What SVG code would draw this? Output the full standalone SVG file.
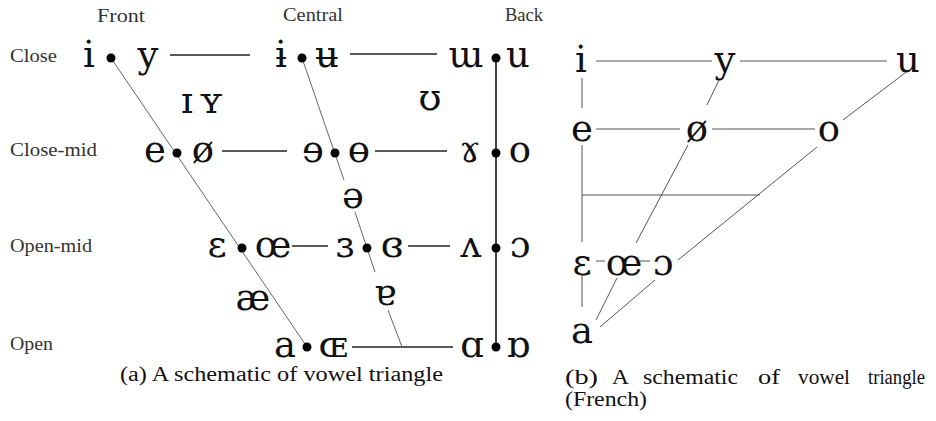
<svg xmlns="http://www.w3.org/2000/svg" width="936" height="421" viewBox="0 0 936 421">
<style>
.lab{font-family:"Liberation Serif",serif;font-size:19px;fill:#333}
.ipa{font-family:"DejaVu Serif","Liberation Serif",serif;font-size:37px;fill:#111;text-anchor:middle}
.cap{font-family:"Liberation Serif",serif;font-size:20px;fill:#111}
.h{stroke:#222;stroke-width:1.3;fill:none}
.d{stroke:#666;stroke-width:1;fill:none}
.r{stroke:#555;stroke-width:1;fill:none}
.dot{fill:#000}
</style>
<rect width="936" height="421" fill="#fff"/>
<g id="labels">
<text class="lab" x="97" y="22" textLength="48" lengthAdjust="spacingAndGlyphs">Front</text>
<text class="lab" x="283" y="21" textLength="60" lengthAdjust="spacingAndGlyphs">Central</text>
<text class="lab" x="505" y="21" textLength="38" lengthAdjust="spacingAndGlyphs">Back</text>
<text class="lab" x="10" y="62" textLength="47" lengthAdjust="spacingAndGlyphs">Close</text>
<text class="lab" x="10" y="156" textLength="87" lengthAdjust="spacingAndGlyphs">Close-mid</text>
<text class="lab" x="10" y="252" textLength="82" lengthAdjust="spacingAndGlyphs">Open-mid</text>
<text class="lab" x="10" y="350" textLength="43" lengthAdjust="spacingAndGlyphs">Open</text>
</g>
<g id="connectors">
<line class="h" x1="170" y1="55" x2="250" y2="55"/>
<line class="h" x1="350" y1="54" x2="437" y2="54"/>
<line class="h" x1="222" y1="151" x2="287" y2="151"/>
<line class="h" x1="375" y1="151" x2="447" y2="151"/>
<line class="h" x1="292" y1="246" x2="328" y2="246"/>
<line class="h" x1="408" y1="246" x2="450" y2="246"/>
<line class="h" x1="352" y1="347" x2="453" y2="347"/>
<line class="d" x1="111" y1="58" x2="307" y2="347"/>
<path class="d" d="M302 58 L344 180 M355 212 L375 272 M388 310 L402 347"/>
<line x1="496" y1="58" x2="496" y2="347" stroke="#111" stroke-width="1.6"/>
<line class="r" x1="596" y1="61" x2="712" y2="61"/>
<line class="r" x1="740" y1="61" x2="887" y2="61"/>
<line class="r" x1="596" y1="129" x2="680" y2="129"/>
<line class="r" x1="712" y1="129" x2="815" y2="129"/>
<line class="r" x1="582" y1="78" x2="582" y2="108"/>
<line class="r" x1="582" y1="145" x2="582" y2="242"/>
<line class="r" x1="582" y1="195" x2="760" y2="195"/>
<line class="r" x1="596" y1="261" x2="605" y2="261"/>
<line class="r" x1="640" y1="261" x2="650" y2="261"/>
<line class="r" x1="582" y1="275" x2="582" y2="307"/>
<line class="r" x1="719" y1="80" x2="707" y2="105"/>
<line class="r" x1="688" y1="145" x2="636" y2="243"/>
<line class="r" x1="905" y1="73" x2="843" y2="120"/>
<line class="r" x1="817" y1="147" x2="678" y2="260"/>
<line class="r" x1="596" y1="320" x2="617" y2="278"/>
<line class="r" x1="600" y1="327" x2="655" y2="280"/>
</g>
<g id="close-front"><text class="ipa" x="89" y="67">i</text><circle class="dot" cx="111" cy="58" r="4.5"/><text class="ipa" x="148" y="67">y</text></g>
<g id="close-central"><text class="ipa" x="281" y="67">ɨ</text><circle class="dot" cx="302" cy="58" r="4.5"/><text class="ipa" x="327" y="67">ʉ</text></g>
<g id="close-back"><text class="ipa" x="466" y="67">ɯ</text><circle class="dot" cx="496" cy="58" r="4.5"/><text class="ipa" x="518" y="67">u</text></g>
<g id="near-close"><text class="ipa" x="187" y="113">ɪ</text><text class="ipa" x="211" y="113">ʏ</text><text class="ipa" x="430" y="110">ʊ</text></g>
<g id="closemid-front"><text class="ipa" x="155" y="162">e</text><circle class="dot" cx="177" cy="153" r="4.5"/><text class="ipa" x="203" y="162">ø</text></g>
<g id="closemid-central"><text class="ipa" x="313" y="162">ɘ</text><circle class="dot" cx="335" cy="153" r="4.5"/><text class="ipa" x="359" y="162">ɵ</text></g>
<g id="closemid-back"><text class="ipa" x="470" y="162">ɤ</text><circle class="dot" cx="496" cy="153" r="4.5"/><text class="ipa" x="520" y="162">o</text></g>
<g id="mid-central"><text class="ipa" x="353" y="208">ə</text></g>
<g id="openmid-front"><text class="ipa" x="217" y="257">ɛ</text><circle class="dot" cx="242" cy="248" r="4.5"/><text class="ipa" x="273" y="257">œ</text></g>
<g id="openmid-central"><text class="ipa" x="345" y="257">ɜ</text><circle class="dot" cx="367" cy="248" r="4.5"/><text class="ipa" x="392" y="257">ɞ</text></g>
<g id="openmid-back"><text class="ipa" x="471" y="257">ʌ</text><circle class="dot" cx="496" cy="248" r="4.5"/><text class="ipa" x="520" y="257">ɔ</text></g>
<g id="near-open"><text class="ipa" x="253" y="310">æ</text><text class="ipa" x="385" y="305">ɐ</text></g>
<g id="open-front"><text class="ipa" x="285" y="357">a</text><circle class="dot" cx="307" cy="347" r="4.5"/><text class="ipa" x="333" y="357">ɶ</text></g>
<g id="open-back"><text class="ipa" x="472" y="357">ɑ</text><circle class="dot" cx="496" cy="347" r="4.5"/><text class="ipa" x="518" y="357">ɒ</text></g>
<g id="fr-i"><text class="ipa" x="581" y="72">i</text></g>
<g id="fr-y"><text class="ipa" x="725" y="72">y</text></g>
<g id="fr-u"><text class="ipa" x="908" y="72">u</text></g>
<g id="fr-e"><text class="ipa" x="582" y="141">e</text></g>
<g id="fr-oe-slash"><text class="ipa" x="697" y="141">ø</text></g>
<g id="fr-o"><text class="ipa" x="829" y="141">o</text></g>
<g id="fr-eps"><text class="ipa" x="582" y="275">ɛ</text></g>
<g id="fr-oe"><text class="ipa" x="624" y="275">œ</text></g>
<g id="fr-open-o"><text class="ipa" x="663" y="275">ɔ</text></g>
<g id="fr-a"><text class="ipa" x="582" y="343">a</text></g>
<g id="captions">
<text class="cap" x="120" y="381" textLength="323" lengthAdjust="spacingAndGlyphs">(a) A schematic of vowel triangle</text>
<text class="cap" x="565" y="384" textLength="33" lengthAdjust="spacingAndGlyphs">(b)</text>
<text class="cap" x="612" y="384" textLength="17" lengthAdjust="spacingAndGlyphs">A</text>
<text class="cap" x="643" y="384" textLength="95" lengthAdjust="spacingAndGlyphs">schematic</text>
<text class="cap" x="758" y="384" textLength="22" lengthAdjust="spacingAndGlyphs">of</text>
<text class="cap" x="798" y="384" textLength="52" lengthAdjust="spacingAndGlyphs">vowel</text>
<text class="cap" x="868" y="384" textLength="57" lengthAdjust="spacingAndGlyphs">triangle</text>
<text class="cap" x="565" y="406" textLength="82" lengthAdjust="spacingAndGlyphs">(French)</text>
</g>
</svg>
